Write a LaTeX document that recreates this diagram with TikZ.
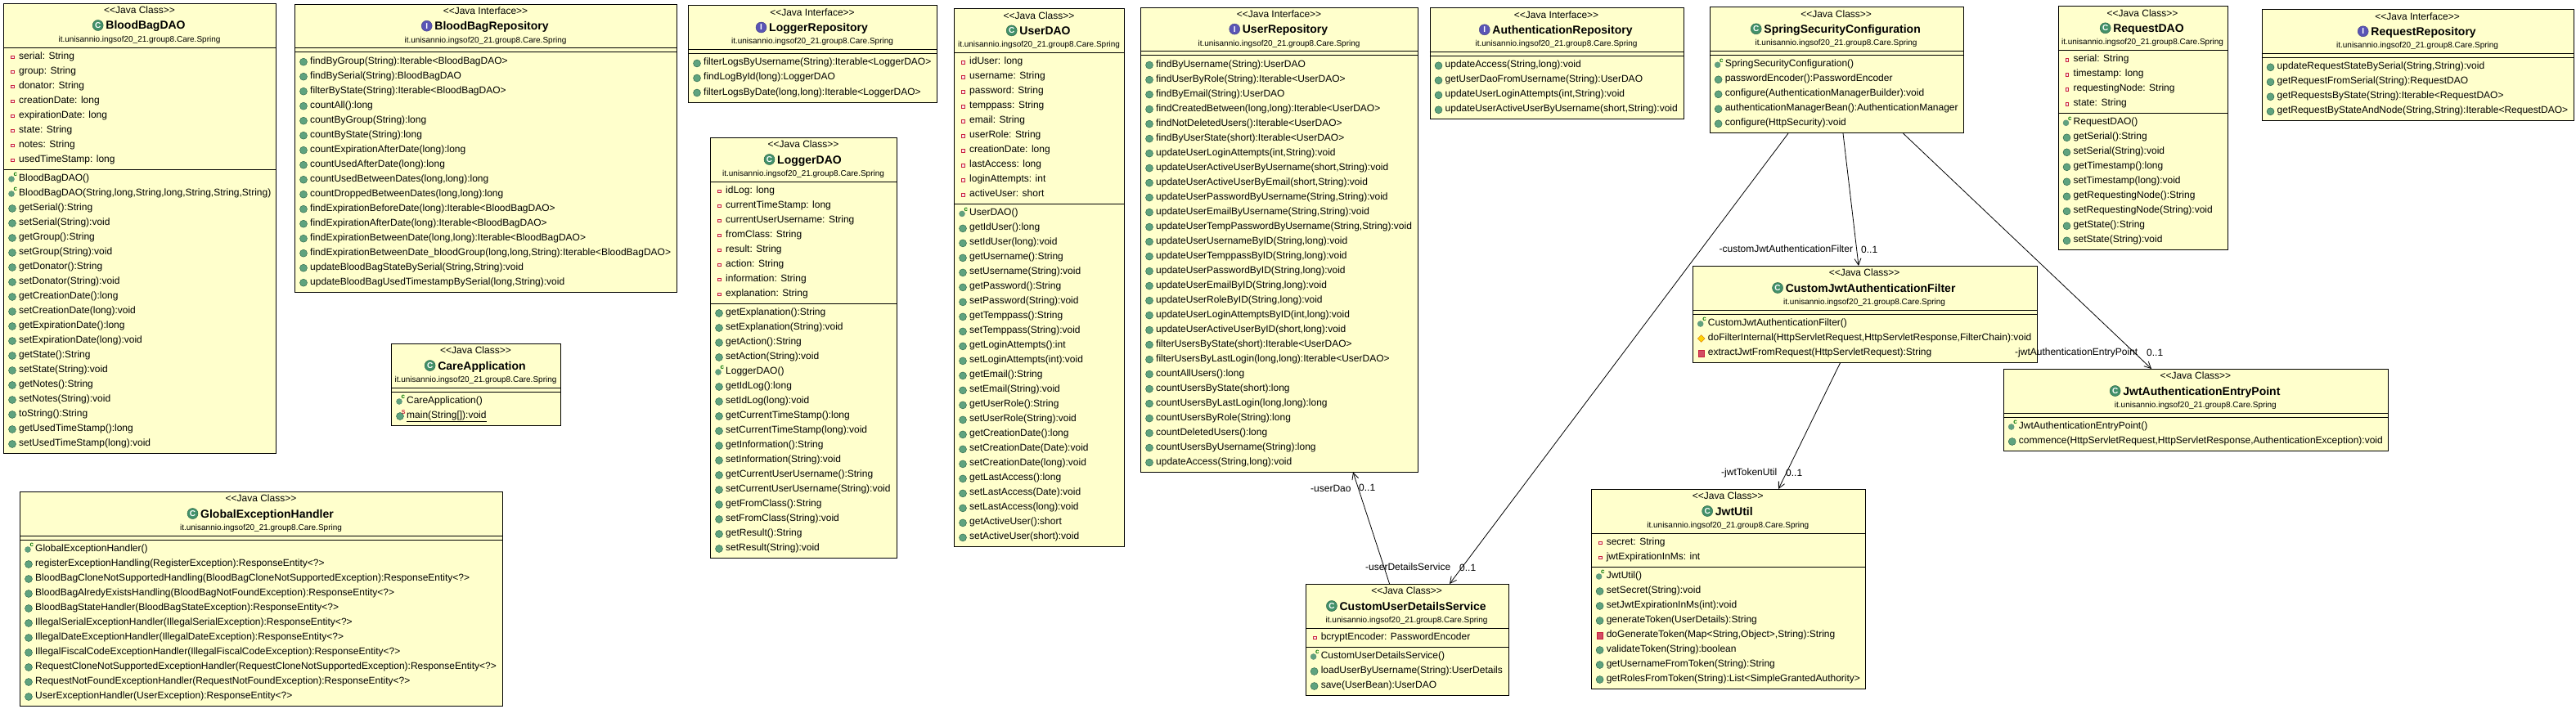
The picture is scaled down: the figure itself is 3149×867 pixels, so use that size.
\documentclass[tikz,border=0pt]{standalone}
\usepackage{fontspec}
\setmainfont{Liberation Sans}
\usepackage{tikz}
\usetikzlibrary{shapes.geometric,arrows.meta,positioning}
\definecolor{boxyellow}{HTML}{FFFFCC}
\definecolor{ballgreen}{HTML}{5FA37F}
\definecolor{balledge}{HTML}{1F5A3F}
\definecolor{titlegreen}{HTML}{43916A}
\definecolor{ifacepurple}{HTML}{5A55B5}
\definecolor{privred}{HTML}{C8203C}
\newcommand{\pkgname}{it.unisannio.ingsof20\_21.group8.Care.Spring}
\newcommand{\umlclass}[9]{
 \def\boxname{#1}\def\boxx{#5}
 \pgfmathsetmacro\boxw{#7-#5}
 \pgfmathsetmacro\boxh{64+18*(#8+#9)}
 \pgfmathsetmacro\boxc{(#5+#7)/2}
 \pgfmathsetmacro\lineA{#6+54}
 \pgfmathsetmacro\lineB{#6+59+18*#8}
 \node[classbox,minimum width=\boxw pt,minimum height=\boxh pt] (#1) at (#5,#6) {};
 \draw[thick] (#5,\lineA) -- (#7,\lineA) (#5,\lineB) -- (#7,\lineB);
 \node[headtext] (#1-st) at (\boxc,#6+12.8) {<{}<#3>{}>};
 \node[headtext,font=\bfseries\fontsize{14}{16}\selectfont] (#1-ti) at (\boxc+7.5,#6+32) {#4};
 \node[icon#2] (#1-ic) at ([xshift=-9.5pt,yshift=5pt]#1-ti.base west) {#2};
 \node[headtext,font=\fontsize{10}{12}\selectfont] (#1-pk) at (\boxc,#6+47.5) {\pkgname};
}
\newcommand{\umlrows}[3]{
 \foreach \ic/\txt [count=\idx from 0] in {#3}{
  \pgfmathsetmacro\rowy{#2+10.5+18*\idx}
  \node[rowtext] (\boxname-#1\idx) at (\boxx+19,\rowy+4) {\txt};
  \node[\ic] (\boxname-#1\idx-ic) at (\boxx+11,\rowy+1.5) {};
 }
}
\tikzset{
 classbox/.style={draw,thick,fill=boxyellow,anchor=north west,inner sep=0pt},
 headtext/.style={anchor=base,inner sep=0pt,font=\fontsize{12}{14}\selectfont},
 rowtext/.style={anchor=base west,inner sep=0pt,font=\fontsize{12}{14}\selectfont},
 iconC/.style={circle,fill=titlegreen,draw=balledge,inner sep=0pt,minimum size=13pt,text=white,font=\bfseries\fontsize{10}{10}\selectfont},
 iconI/.style={iconC,fill=ifacepurple,draw=ifacepurple!70!black},
 mth/.style={circle,fill=ballgreen,draw=balledge,inner sep=0pt,minimum size=9pt},
 ctr/.style={circle,fill=ballgreen,draw=balledge!70,inner sep=0pt,minimum size=7pt,xshift=-1pt,
  label={[label distance=0pt,inner sep=0pt,text=green!45!black,font=\bfseries\fontsize{8}{8}\selectfont]50:c}},
 stt/.style={mth,label={[label distance=-2pt,inner sep=0pt,text=privred,font=\bfseries\fontsize{7}{7}\selectfont]50:S}},
 fld/.style={rectangle,fill=privred!10,draw=privred,line width=1pt,inner sep=0pt,minimum size=3.8pt,xshift=.5pt},
 prv/.style={rectangle,fill=privred!80,draw=privred,inner sep=0pt,minimum size=7.5pt},
 prt/.style={diamond,fill=yellow!70!orange,draw=orange!85!black,inner sep=0pt,minimum size=9pt},
 assoc/.style={-{Straight Barb[length=8pt,width=8pt]},line width=.8pt},
 edgetext/.style={anchor=base west,inner sep=0pt,font=\fontsize{12}{14}\selectfont}
}
\begin{document}
\begin{tikzpicture}[x=1pt,y=-1pt]
\useasboundingbox (0,0) rectangle (3149,867);
\umlclass{bagDao}{C}{Java Class}{BloodBagDAO}{4}{4}{337}{8}{19}
\umlrows{f}{\lineA}{fld/serial: String,fld/group: String,fld/donator: String,fld/creationDate: long,fld/expirationDate: long,fld/state: String,fld/notes: String,fld/usedTimeStamp: long}
\umlrows{m}{\lineB}{ctr/BloodBagDAO(),ctr/{BloodBagDAO(String,long,String,long,String,String,String)},mth/getSerial():String,mth/setSerial(String):void,mth/getGroup():String,mth/setGroup(String):void,mth/getDonator():String,mth/setDonator(String):void,mth/getCreationDate():long,mth/setCreationDate(long):void,mth/getExpirationDate():long,mth/setExpirationDate(long):void,mth/getState():String,mth/setState(String):void,mth/getNotes():String,mth/setNotes(String):void,mth/toString():String,mth/getUsedTimeStamp():long,mth/setUsedTimeStamp(long):void}
\umlclass{bagRepo}{I}{Java Interface}{BloodBagRepository}{360}{4.7}{827}{0}{16}
\umlrows{m}{\lineB}{mth/findByGroup(String):Iterable<BloodBagDAO>,mth/findBySerial(String):BloodBagDAO,mth/filterByState(String):Iterable<BloodBagDAO>,mth/countAll():long,mth/countByGroup(String):long,mth/countByState(String):long,mth/countExpirationAfterDate(long):long,mth/countUsedAfterDate(long):long,mth/{countUsedBetweenDates(long,long):long},mth/{countDroppedBetweenDates(long,long):long},mth/findExpirationBeforeDate(long):Iterable<BloodBagDAO>,mth/findExpirationAfterDate(long):Iterable<BloodBagDAO>,mth/{findExpirationBetweenDate(long,long):Iterable<BloodBagDAO>},mth/{findExpirationBetweenDate\_bloodGroup(long,long,String):Iterable<BloodBagDAO>},mth/{updateBloodBagStateBySerial(String,String):void},mth/{updateBloodBagUsedTimestampBySerial(long,String):void}}
\umlclass{logRepo}{I}{Java Interface}{LoggerRepository}{841}{6.5}{1145}{0}{3}
\umlrows{m}{\lineB}{mth/filterLogsByUsername(String):Iterable<LoggerDAO>,mth/findLogById(long):LoggerDAO,mth/{filterLogsByDate(long,long):Iterable<LoggerDAO>}}
\umlclass{logDao}{C}{Java Class}{LoggerDAO}{868}{168}{1096}{8}{17}
\umlrows{f}{\lineA}{fld/idLog: long,fld/currentTimeStamp: long,fld/currentUserUsername: String,fld/fromClass: String,fld/result: String,fld/action: String,fld/information: String,fld/explanation: String}
\umlrows{m}{\lineB}{mth/getExplanation():String,mth/setExplanation(String):void,mth/getAction():String,mth/setAction(String):void,ctr/LoggerDAO(),mth/getIdLog():long,mth/setIdLog(long):void,mth/getCurrentTimeStamp():long,mth/setCurrentTimeStamp(long):void,mth/getInformation():String,mth/setInformation(String):void,mth/getCurrentUserUsername():String,mth/setCurrentUserUsername(String):void,mth/getFromClass():String,mth/setFromClass(String):void,mth/getResult():String,mth/setResult(String):void}
\umlclass{userDao}{C}{Java Class}{UserDAO}{1166}{10.4}{1374}{10}{23}
\umlrows{f}{\lineA}{fld/idUser: long,fld/username: String,fld/password: String,fld/temppass: String,fld/email: String,fld/userRole: String,fld/creationDate: long,fld/lastAccess: long,fld/loginAttempts: int,fld/activeUser: short}
\umlrows{m}{\lineB}{ctr/UserDAO(),mth/getIdUser():long,mth/setIdUser(long):void,mth/getUsername():String,mth/setUsername(String):void,mth/getPassword():String,mth/setPassword(String):void,mth/getTemppass():String,mth/setTemppass(String):void,mth/getLoginAttempts():int,mth/setLoginAttempts(int):void,mth/getEmail():String,mth/setEmail(String):void,mth/getUserRole():String,mth/setUserRole(String):void,mth/getCreationDate():long,mth/setCreationDate(Date):void,mth/setCreationDate(long):void,mth/getLastAccess():long,mth/setLastAccess(Date):void,mth/setLastAccess(long):void,mth/getActiveUser():short,mth/setActiveUser(short):void}
\umlclass{userRepo}{I}{Java Interface}{UserRepository}{1394}{8.6}{1733}{0}{28}
\umlrows{m}{\lineB}{mth/findByUsername(String):UserDAO,mth/findUserByRole(String):Iterable<UserDAO>,mth/findByEmail(String):UserDAO,mth/{findCreatedBetween(long,long):Iterable<UserDAO>},mth/findNotDeletedUsers():Iterable<UserDAO>,mth/findByUserState(short):Iterable<UserDAO>,mth/{updateUserLoginAttempts(int,String):void},mth/{updateUserActiveUserByUsername(short,String):void},mth/{updateUserActiveUserByEmail(short,String):void},mth/{updateUserPasswordByUsername(String,String):void},mth/{updateUserEmailByUsername(String,String):void},mth/{updateUserTempPasswordByUsername(String,String):void},mth/{updateUserUsernameByID(String,long):void},mth/{updateUserTemppassByID(String,long):void},mth/{updateUserPasswordByID(String,long):void},mth/{updateUserEmailByID(String,long):void},mth/{updateUserRoleByID(String,long):void},mth/{updateUserLoginAttemptsByID(int,long):void},mth/{updateUserActiveUserByID(short,long):void},mth/filterUsersByState(short):Iterable<UserDAO>,mth/{filterUsersByLastLogin(long,long):Iterable<UserDAO>},mth/countAllUsers():long,mth/countUsersByState(short):long,mth/{countUsersByLastLogin(long,long):long},mth/countUsersByRole(String):long,mth/countDeletedUsers():long,mth/countUsersByUsername(String):long,mth/{updateAccess(String,long):void}}
\umlclass{authRepo}{I}{Java Interface}{AuthenticationRepository}{1747.5}{9.3}{2057.5}{0}{4}
\umlrows{m}{\lineB}{mth/{updateAccess(String,long):void},mth/getUserDaoFromUsername(String):UserDAO,mth/{updateUserLoginAttempts(int,String):void},mth/{updateUserActiveUserByUsername(short,String):void}}
\umlclass{springCfg}{C}{Java Class}{SpringSecurityConfiguration}{2089.6}{8.3}{2399.6}{0}{5}
\umlrows{m}{\lineB}{ctr/SpringSecurityConfiguration(),mth/passwordEncoder():PasswordEncoder,mth/configure(AuthenticationManagerBuilder):void,mth/authenticationManagerBean():AuthenticationManager,mth/configure(HttpSecurity):void}
\umlclass{reqDao}{C}{Java Class}{RequestDAO}{2515.5}{7.3}{2722.5}{4}{9}
\umlrows{f}{\lineA}{fld/serial: String,fld/timestamp: long,fld/requestingNode: String,fld/state: String}
\umlrows{m}{\lineB}{ctr/RequestDAO(),mth/getSerial():String,mth/setSerial(String):void,mth/getTimestamp():long,mth/setTimestamp(long):void,mth/getRequestingNode():String,mth/setRequestingNode(String):void,mth/getState():String,mth/setState(String):void}
\umlclass{reqRepo}{I}{Java Interface}{RequestRepository}{2764.5}{11.3}{3145.6}{0}{4}
\umlrows{m}{\lineB}{mth/{updateRequestStateBySerial(String,String):void},mth/getRequestFromSerial(String):RequestDAO,mth/getRequestsByState(String):Iterable<RequestDAO>,mth/{getRequestByStateAndNode(String,String):Iterable<RequestDAO>}}
\umlclass{careApp}{C}{Java Class}{CareApplication}{478}{420}{685}{0}{2}
\umlrows{m}{\lineB}{ctr/CareApplication(),stt/{\underline{main(String[]):void}}}
\umlclass{globalEx}{C}{Java Class}{GlobalExceptionHandler}{24}{601}{614}{0}{11}
\umlrows{m}{\lineB}{ctr/GlobalExceptionHandler(),mth/registerExceptionHandling(RegisterException):ResponseEntity<?>,mth/BloodBagCloneNotSupportedHandling(BloodBagCloneNotSupportedException):ResponseEntity<?>,mth/BloodBagAlredyExistsHandling(BloodBagNotFoundException):ResponseEntity<?>,mth/BloodBagStateHandler(BloodBagStateException):ResponseEntity<?>,mth/IllegalSerialExceptionHandler(IllegalSerialException):ResponseEntity<?>,mth/IllegalDateExceptionHandler(IllegalDateException):ResponseEntity<?>,mth/IllegalFiscalCodeExceptionHandler(IllegalFiscalCodeException):ResponseEntity<?>,mth/RequestCloneNotSupportedExceptionHandler(RequestCloneNotSupportedException):ResponseEntity<?>,mth/RequestNotFoundExceptionHandler(RequestNotFoundException):ResponseEntity<?>,mth/UserExceptionHandler(UserException):ResponseEntity<?>}
\umlclass{userSrv}{C}{Java Class}{CustomUserDetailsService}{1595.6}{714}{1843.6}{1}{3}
\umlrows{f}{\lineA}{fld/bcryptEncoder: PasswordEncoder}
\umlrows{m}{\lineB}{ctr/CustomUserDetailsService(),mth/loadUserByUsername(String):UserDetails,mth/save(UserBean):UserDAO}
\umlclass{jwtUtil}{C}{Java Class}{JwtUtil}{1944.6}{598}{2280}{2}{8}
\umlrows{f}{\lineA}{fld/secret: String,fld/jwtExpirationInMs: int}
\umlrows{m}{\lineB}{ctr/JwtUtil(),mth/setSecret(String):void,mth/setJwtExpirationInMs(int):void,mth/generateToken(UserDetails):String,prv/{doGenerateToken(Map<String,Object>,String):String},mth/validateToken(String):boolean,mth/getUsernameFromToken(String):String,mth/getRolesFromToken(String):List<SimpleGrantedAuthority>}
\umlclass{jwtFilter}{C}{Java Class}{CustomJwtAuthenticationFilter}{2068.7}{325}{2489.5}{0}{3}
\umlrows{m}{\lineB}{ctr/CustomJwtAuthenticationFilter(),prt/{doFilterInternal(HttpServletRequest,HttpServletResponse,FilterChain):void},prv/extractJwtFromRequest(HttpServletRequest):String}
\umlclass{jwtEntry}{C}{Java Class}{JwtAuthenticationEntryPoint}{2448.7}{451}{2919}{0}{2}
\umlrows{m}{\lineB}{ctr/JwtAuthenticationEntryPoint(),mth/{commence(HttpServletRequest,HttpServletResponse,AuthenticationException):void}}
\draw[assoc] ([xshift=103pt]userSrv.north west) -- ([xshift=260pt]userRepo.south west);
\draw[assoc] ([xshift=96.4pt]springCfg.south west) -- ([xshift=176.4pt]userSrv.north west);
\draw[assoc] ([xshift=163.4pt]springCfg.south west) -- ([xshift=203.3pt]jwtFilter.north west);
\draw[assoc] ([xshift=236.9pt]springCfg.south west) -- ([xshift=181.3pt]jwtEntry.north west);
\draw[assoc] ([xshift=180.8pt]jwtFilter.south west) -- ([xshift=229.4pt]jwtUtil.north west);
\node[edgetext] (nmUserDao) at (1602,601) {-userDao};
\node[edgetext] (mlUserDao) at (1661,600) {0..1};
\node[edgetext] (nmUserSrv) at (1669,697) {-userDetailsService};
\node[edgetext] (mlUserSrv) at (1784,698) {0..1};
\node[edgetext] (nmFilter) at (2101.4,308) {-customJwtAuthenticationFilter};
\node[edgetext] (mlFilter) at (2275,309) {0..1};
\node[edgetext] (nmEntry) at (2463,434) {-jwtAuthenticationEntryPoint};
\node[edgetext] (mlEntry) at (2624,435) {0..1};
\node[edgetext] (nmToken) at (2104,581) {-jwtTokenUtil};
\node[edgetext] (mlToken) at (2183,582) {0..1};
\end{tikzpicture}
\end{document}
